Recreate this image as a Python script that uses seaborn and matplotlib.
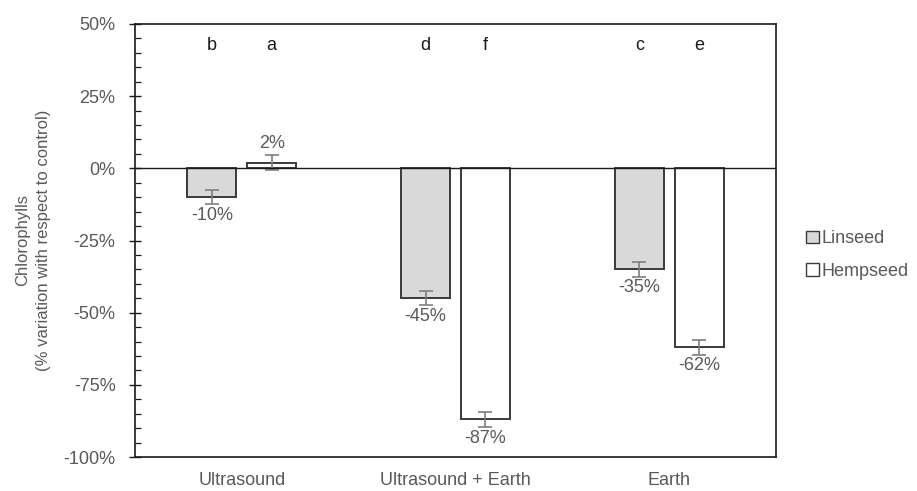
import matplotlib
matplotlib.use("Agg")
import matplotlib.pyplot as plt
from matplotlib.ticker import MultipleLocator, PercentFormatter
from matplotlib.patches import Patch
import seaborn as sns
import pandas as pd
import numpy as np

# Chlorophyll variation (%) relative to control
treatments = ["Ultrasound", "Ultrasound + Earth", "Earth"]
seeds = ["Linseed", "Hempseed"]
linseed_vals = [-10, -45, -35]
hempseed_vals = [2, -87, -62]
linseed_err = [2.5, 2.5, 2.5]
hempseed_err = [2.5, 2.5, 2.5]
linseed_letters = ["b", "d", "c"]
hempseed_letters = ["a", "f", "e"]

df = pd.DataFrame({
    "treatment": treatments * 2,
    "seed": [seeds[0]] * 3 + [seeds[1]] * 3,
    "value": linseed_vals + hempseed_vals,
    "err": linseed_err + hempseed_err,
    "letter": linseed_letters + hempseed_letters,
})

sns.set_theme(style="white")
plt.rcParams["font.family"] = ["Liberation Sans", "DejaVu Sans"]
plt.rcParams["axes.unicode_minus"] = False
gray_txt = "#595959"
edge = "#3a3a3a"
fs = 13

fig = plt.figure(figsize=(9.17, 4.91), dpi=100)
ax = fig.add_axes([135 / 917, 1 - 457 / 491, 641 / 917, 433 / 491])

palette = {"Linseed": "#d9d9d9", "Hempseed": "#ffffff"}
sns.barplot(data=df, x="treatment", y="value", hue="seed", order=treatments,
            hue_order=seeds, palette=palette, width=0.56, gap=0.18,
            edgecolor=edge, linewidth=1.4, errorbar=None, legend=False, ax=ax,
            zorder=2)

# Error bars, value labels and significance letters, placed on the bars
patches = [p for p in ax.patches if p.get_width() > 0]
for i, seed in enumerate(seeds):
    sub = df[df["seed"] == seed].set_index("treatment").loc[treatments]
    for j, t in enumerate(treatments):
        p = patches[i * len(treatments) + j]
        xc = p.get_x() + p.get_width() / 2
        v = sub.loc[t, "value"]
        e = sub.loc[t, "err"]
        ax.errorbar(xc, v, yerr=e, fmt="none", ecolor="#7f7f7f",
                    elinewidth=1.2, capsize=5, capthick=1.2, zorder=3)
        if v >= 0:
            ax.text(xc, v + e + 1.0, f"{v:.0f}%", ha="center", va="bottom",
                    fontsize=fs, color=gray_txt)
        else:
            ax.text(xc, v - e - 1.0, f"{v:.0f}%", ha="center", va="top",
                    fontsize=fs, color=gray_txt)
        ax.text(xc, 42.5, sub.loc[t, "letter"], ha="center", va="center",
                fontsize=fs, color="#1a1a1a")

ax.axhline(0, color="#1a1a1a", linewidth=1.0, zorder=4)

ax.set_ylim(-100, 50)
ax.set_xlim(-0.5, 2.5)
ax.yaxis.set_major_locator(MultipleLocator(25))
ax.yaxis.set_minor_locator(MultipleLocator(5))
ax.yaxis.set_major_formatter(PercentFormatter(decimals=0))
ax.tick_params(axis="y", which="major", direction="inout", length=8,
               width=1.0, color="#1a1a1a", labelsize=fs, labelcolor=gray_txt,
               left=True, pad=10)
ax.tick_params(axis="y", which="minor", direction="in", length=4,
               width=0.9, color="#1a1a1a", left=True)
ax.tick_params(axis="x", which="major", length=0, labelsize=fs,
               labelcolor=gray_txt, pad=11)

for s in ax.spines.values():
    s.set_visible(True)
    s.set_color("#1a1a1a")
    s.set_linewidth(1.2)

ax.set_xlabel("")
ax.set_ylabel("Chlorophylls\n(% variation with respect to control)",
              fontsize=12, color=gray_txt, labelpad=9, linespacing=1.45)

handles = [Patch(facecolor=palette[s], edgecolor=edge, linewidth=1.0, label=s)
           for s in seeds]
fig.legend(handles=handles, loc="center left", bbox_to_anchor=(806 / 917, 1 - 255 / 491),
           frameon=False, fontsize=fs, labelcolor=gray_txt, handlelength=0.7,
           handleheight=0.7, handletextpad=0.15, labelspacing=0.85,
           borderpad=0, borderaxespad=0)

fig.savefig("out.png", dpi=100)
